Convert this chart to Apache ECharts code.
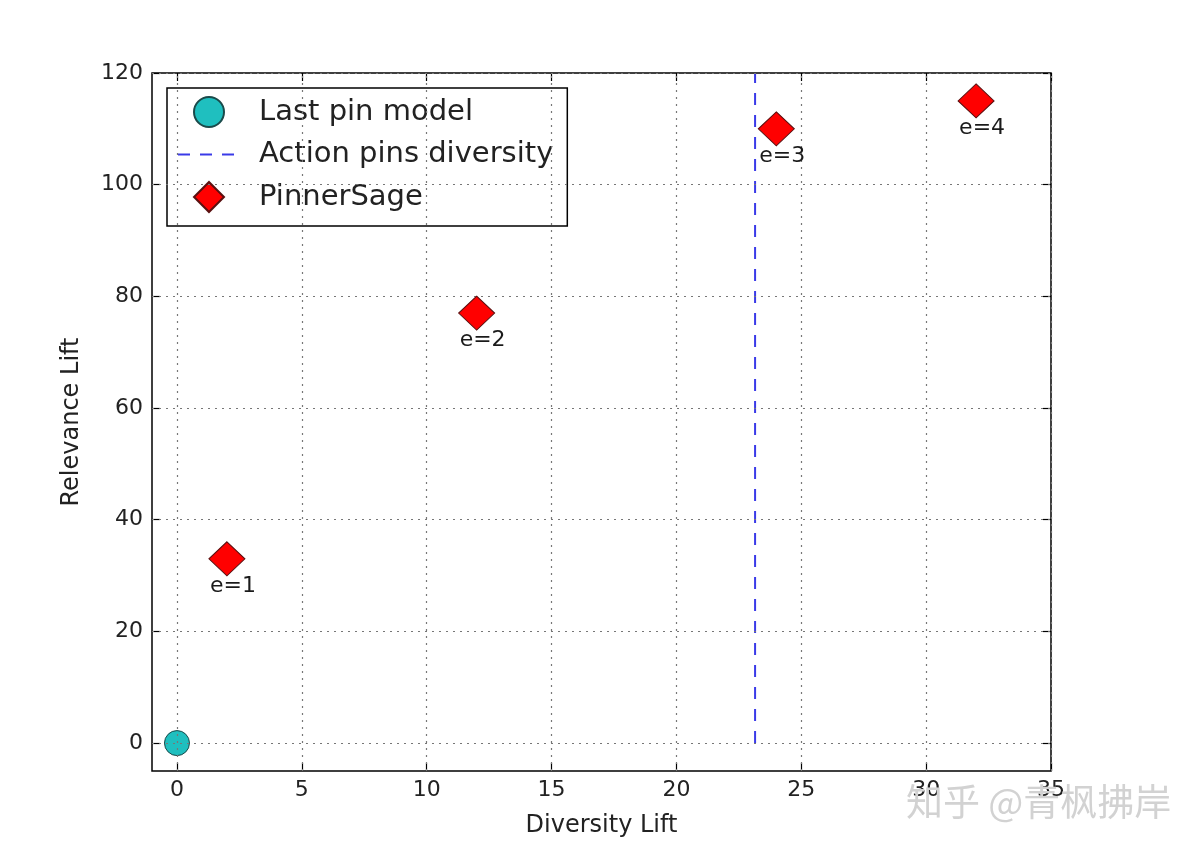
<!DOCTYPE html>
<html><head><meta charset="utf-8">
<script src="https://cdn.jsdelivr.net/npm/echarts@6/dist/echarts.min.js"></script>
<style>html,body{margin:0;padding:0;background:#fff}#c{width:1200px;height:858px}</style>
</head><body><div id="c"></div>
<script>
var xTicks = [0, 5, 10, 15, 20, 25, 30, 35];
var yTicks = [0, 20, 40, 60, 80, 100, 120];
var lastPin = [[0, 0]];
var actionPinsX = 23.15;
var actionPinsY = [0, 120];
var pinnerSage = [[2, 33], [12, 77], [24, 110], [32, 115]];
var pinnerLabels = ['e=1', 'e=2', 'e=3', 'e=4'];

var FONT = 'DejaVu Sans';
var chart = echarts.init(document.getElementById('c'));

var gridLines = xTicks.map(function (v) { return { xAxis: v }; })
  .concat(yTicks.map(function (v) { return { yAxis: v }; }));

function xAx(pos, showLabel) {
  return {
    type: 'value', position: pos, min: -1, max: 35,
    axisLine: { show: false, onZero: false },
    splitLine: { show: false },
    axisTick: { show: true, inside: true, length: 8, customValues: xTicks, lineStyle: { color: '#000', width: 1.2 } },
    axisLabel: { show: showLabel, customValues: xTicks, fontFamily: FONT, fontSize: 22, color: '#222', margin: 8 },
    name: showLabel ? 'Diversity Lift' : '', nameLocation: 'middle', nameGap: 43,
    nameTextStyle: { fontFamily: FONT, fontSize: 24, color: '#222' }
  };
}
function yAx(pos, showLabel) {
  return {
    type: 'value', position: pos, min: -5, max: 120,
    axisLine: { show: false, onZero: false },
    splitLine: { show: false },
    axisTick: { show: true, inside: true, length: 8, customValues: yTicks, lineStyle: { color: '#000', width: 1.2 } },
    axisLabel: { show: showLabel, customValues: yTicks, fontFamily: FONT, fontSize: 22, color: '#222', margin: 9 },
    name: showLabel ? 'Relevance Lift' : '', nameLocation: 'middle', nameGap: 68,
    nameTextStyle: { fontFamily: FONT, fontSize: 24, color: '#222' }
  };
}

chart.setOption({
  animation: false,
  backgroundColor: '#fff',
  grid: { left: 152, right: 149, top: 73, bottom: 87, show: true, borderColor: '#000', borderWidth: 1.5, backgroundColor: 'transparent' },
  xAxis: [xAx('bottom', true), xAx('top', false)],
  yAxis: [yAx('left', true), yAx('right', false)],
  legend: {
    orient: 'vertical', left: 167, top: 88,
    padding: [8, 14, 13, 10],
    itemWidth: 62, itemHeight: 30, itemGap: 12,
    symbolKeepAspect: true,
    borderColor: '#000', borderWidth: 1.5, backgroundColor: '#fff',
    textStyle: { fontFamily: FONT, fontSize: 29, color: '#222', padding: [0, 0, 0, 14] },
    data: [
      { name: 'Last pin model' },
      { name: 'Action pins diversity', itemStyle: { opacity: 0 } },
      { name: 'PinnerSage', icon: 'path://M0,-1L1,0L0,1L-1,0Z' }
    ]
  },
  series: [
    {
      name: 'Last pin model', type: 'scatter', data: lastPin, symbol: 'circle', symbolSize: 25,
      symbolKeepAspect: true,
      itemStyle: { color: '#1fbfbf', borderColor: '#1a4a4a', borderWidth: 1, opacity: 1 },
      z: 3,
      markLine: {
        silent: true, symbol: 'none', label: { show: false }, animation: false,
        lineStyle: { color: '#777', width: 1.2, type: [2, 5] },
        data: gridLines, z: 4
      }
    },
    {
      name: 'Action pins diversity', type: 'line', symbol: 'none',
      data: actionPinsY.map(function (y) { return [actionPinsX, y]; }),
      lineStyle: { color: '#3a3ae8', width: 2, type: [12, 10] },
      itemStyle: { color: '#3a3ae8' }, z: 2
    },
    {
      name: 'PinnerSage', type: 'scatter', symbol: 'diamond', symbolSize: [36, 34],
      symbolKeepAspect: true,
      data: pinnerSage.map(function (p, i) { return { value: p, label: { formatter: pinnerLabels[i] } }; }),
      itemStyle: { color: '#ff0000', borderColor: '#5a1010', borderWidth: 1, opacity: 1 },
      label: { show: true, position: 'inside', offset: [6, 27], fontFamily: FONT, fontSize: 22, color: '#1a1a1a' },
      z: 5
    }
  ],
  graphic: [
    { type: 'text', left: 906, top: 783, z: 100, silent: true,
      style: { text: '知乎 @青枫拂岸', fontFamily: 'Noto Sans CJK SC', fontSize: 37, fill: '#d2d2d2',
        shadowColor: 'rgba(70,70,70,0.7)', shadowBlur: 1, shadowOffsetX: 1, shadowOffsetY: 1 } }
  ]
});
</script></body></html>
